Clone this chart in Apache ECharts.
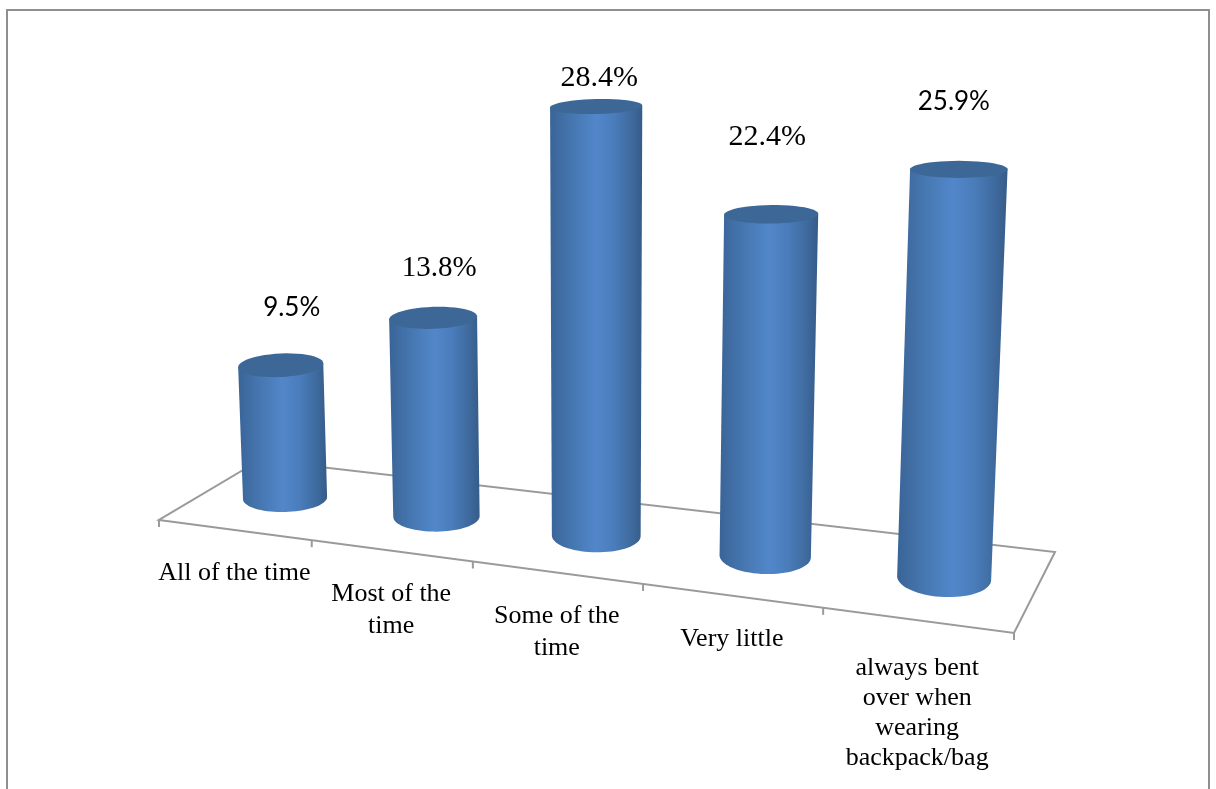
<!DOCTYPE html>
<html>
<head>
<meta charset="utf-8">
<style>html,body{margin:0;padding:0;background:#fff}#c{width:1216px;height:789px}</style>
<script src="https://cdn.jsdelivr.net/npm/echarts@6/dist/echarts.min.js"></script>
</head>
<body>
<div id="c"></div>
<script>
const categories = ['All of the time', 'Most of the\ntime', 'Some of the\ntime', 'Very little', 'always bent\nover when\nwearing\nbackpack/bag'];
const shares = [9.5, 13.8, 28.4, 22.4, 25.9];
const shareLabels = ['9.5%', '13.8%', '28.4%', '22.4%', '25.9%'];

// Presentation only: offsets of the hand-placed labels, small perspective trims, view geometry.
const valueLabelOffset = [[11, -58], [6, -49.5], [3, -28], [-4, -77], [-5, -68]];
const valueLabelFont = ['Lato', 'Liberation Serif', 'Liberation Serif', 'Liberation Serif', 'Lato'];
const valueLabelSize = [26, 29, 30, 30, 26];
const categoryLabelDrop = [27, 27, 27.5, 27, 33];
const heightTrim = [-2, -2.5, 4, -3, -2];
const persp = -0.13;
const floorSlope = 0.1322;

const grid = { left: 159, top: 100, width: 855, height: 420 };
const weight = t => 1 / (1 + persp * t);
const proj = t => t * weight(t) * (1 + persp);   // 0..1 along the front edge, foreshortened
const frontPoint = t => {
  const x = grid.left + grid.width * proj(t);
  return [x, grid.top + grid.height + (x - grid.left) * floorSlope];
};
const basePoint = t => {
  const x = 212.3 + 718 * t * weight(t);
  return [x, 498 + (x - 285) * 0.1214];
};
function ellipsePts(cx, cy, rx, ry, slope, from, to, n) {
  const pts = [];
  for (let k = 0; k <= n; k++) {
    const a = from + (to - from) * k / n;
    const dx = rx * Math.cos(a);
    pts.push([cx + dx, cy + ry * Math.sin(a) + dx * slope]);
  }
  return pts;
}
const sideFill = new echarts.graphic.LinearGradient(0, 0, 1, 0, [
  { offset: 0, color: '#3a6497' }, { offset: 0.22, color: '#4575ae' },
  { offset: 0.5, color: '#5187ca' }, { offset: 0.7, color: '#4a7cba' },
  { offset: 0.9, color: '#3d689b' }, { offset: 1, color: '#365c88' }
]);

function renderFloor(params, api) {
  if (params.dataIndex !== 0) return null;
  const line = { stroke: '#9a9a9a', lineWidth: 2, fill: 'none' };
  const A = frontPoint(0), B = frontPoint(1), C = [1055, 552], D = [260, 460];
  const children = [{
    type: 'polygon', shape: { points: [A, B, C, D] },
    style: { fill: '#fff', stroke: '#9a9a9a', lineWidth: 2 }
  }];
  for (let i = 0; i <= categories.length; i++) {
    const p = frontPoint(i / categories.length);
    children.push({ type: 'line', shape: { x1: p[0], y1: p[1], x2: p[0], y2: p[1] + 7 }, style: line });
  }
  return { type: 'group', children };
}

function renderBar(params, api) {
  const i = api.value(0), v = api.value(1);
  const t = (api.coord([i, 0])[0] - grid.left) / grid.width;
  const w = weight(t);
  const h = Math.abs(api.coord([i, 0])[1] - api.coord([i, v])[1]) * w + heightTrim[i];
  const b = basePoint(t);
  const top = [b[0] + (b[0] - 598) * h * 1.04e-4, b[1] - h];
  const rxB = 41.5 * w, rxT = rxB * (1 + h * 0.00009);
  const ryT = 0.0165 * (top[1] - 107) + 7.5;
  const ryB = 14 + (t - 0.1) * 6.25;
  const slopeT = -0.045 + 0.045 * (t - 0.1) / 0.8;
  const slopeB = -0.025 + 0.065 * (t - 0.1) / 0.8;
  const topEll = ellipsePts(top[0], top[1], rxT, ryT, slopeT, 0, Math.PI * 2, 48);
  const body = [[top[0] - rxT, top[1] - rxT * slopeT], [top[0] + rxT, top[1] + rxT * slopeT]]
    .concat(ellipsePts(b[0], b[1], rxB, ryB, slopeB, 0, Math.PI, 36));
  const valOff = valueLabelOffset[i];
  const front = frontPoint(t);
  return {
    type: 'group',
    children: [
      { type: 'polygon', shape: { points: body }, style: { fill: sideFill } },
      { type: 'polygon', shape: { points: topEll }, style: { fill: '#3c6797' } },
      { type: 'text', style: {
        x: top[0] + valOff[0], y: top[1] + valOff[1], text: shareLabels[i],
        font: valueLabelSize[i] + 'px "' + valueLabelFont[i] + '"',
        fill: '#000', align: 'center', verticalAlign: 'middle'
      } },
      { type: 'text', style: {
        x: front[0], y: front[1] + categoryLabelDrop[i], text: categories[i],
        font: '26px "Liberation Serif"', lineHeight: i === 4 ? 30 : 32,
        fill: '#000', align: 'center', verticalAlign: 'top'
      } }
    ]
  };
}

const chart = echarts.init(document.getElementById('c'), null, { renderer: 'canvas' });
chart.setOption({
  animation: false,
  backgroundColor: '#fff',
  grid: grid,
  xAxis: { type: 'category', data: categories, show: false },
  yAxis: { type: 'value', min: 0, max: 30, interval: 10, show: false },
  graphic: [{
    type: 'rect', shape: { x: 7, y: 10, width: 1202, height: 820 },
    style: { fill: 'none', stroke: '#8f8f8f', lineWidth: 2 }, silent: true, z: 0
  }],
  series: [
    { type: 'custom', z: 1, silent: true, clip: false, renderItem: renderFloor, data: shares.map((v, i) => [i, v]) },
    { type: 'custom', z: 2, silent: true, clip: false, renderItem: renderBar, data: shares.map((v, i) => [i, v]), encode: { x: 0, y: 1 } }
  ]
});
</script>
</body>
</html>
